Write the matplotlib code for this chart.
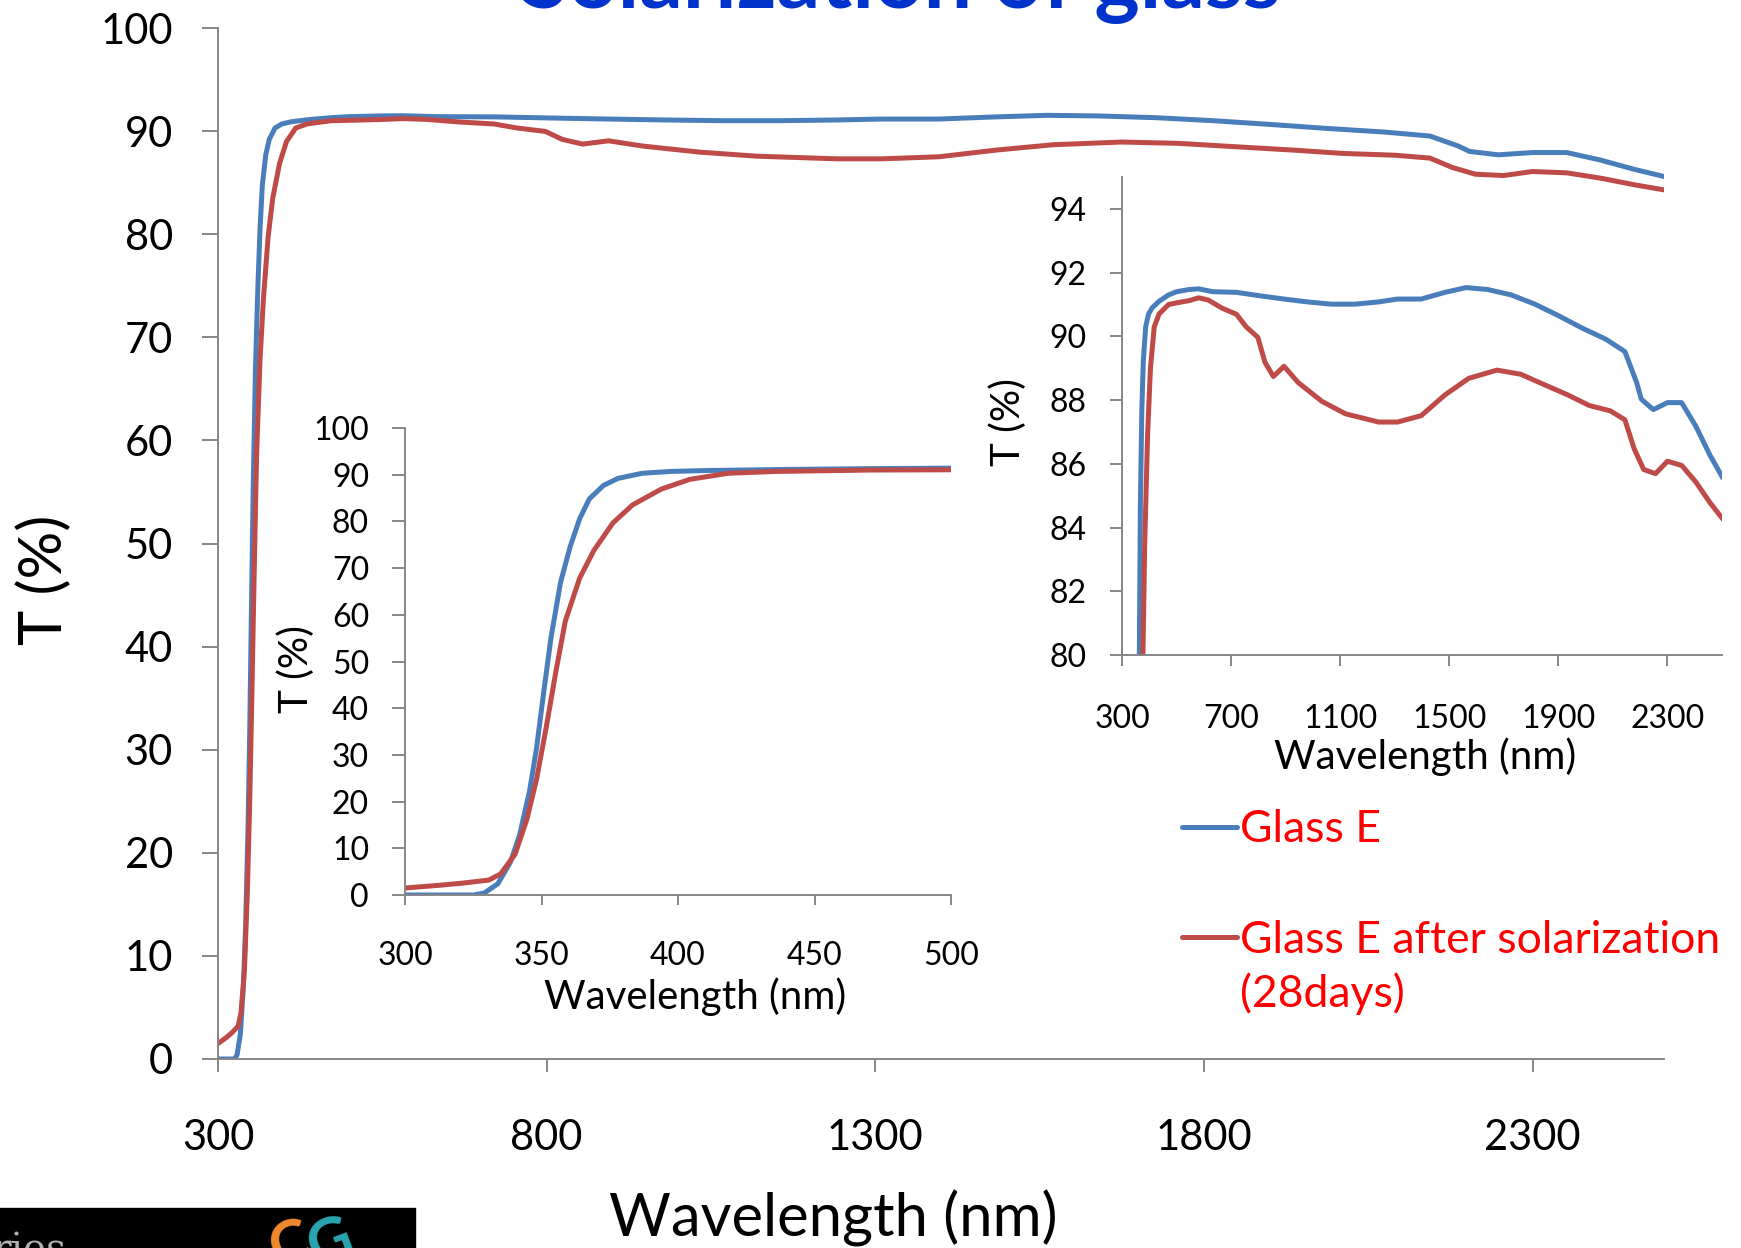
import numpy as np
import matplotlib.pyplot as plt
from matplotlib.lines import Line2D
from matplotlib.patches import Rectangle

# transmission spectra: wavelength (nm), T (%)
wl_glass = [300, 325, 329, 334, 338.6, 342, 345.6, 348.2, 350.8, 353.5, 357, 360.5,
            364, 367.5, 372.7, 378, 386.8, 397.3, 411, 436, 471, 500, 546, 581,
            633, 720, 807, 894, 980, 1067, 1154, 1241, 1310, 1397, 1484, 1562,
            1640, 1727, 1814, 1900, 1987, 2074, 2144, 2187, 2204, 2248, 2300,
            2352, 2404, 2456, 2500]
t_glass = [0, 0, 0.4, 2.4, 7.0, 12.9, 22.2, 31.5, 43.4, 55.2, 67.0, 74.6,
           80.6, 84.8, 87.7, 89.2, 90.3, 90.7, 90.9, 91.1, 91.3, 91.4, 91.47, 91.49,
           91.4, 91.38, 91.27, 91.17, 91.08, 91.01, 91.01, 91.08, 91.17, 91.17, 91.38, 91.53,
           91.47, 91.3, 91.01, 90.65, 90.26, 89.91, 89.52, 88.55, 88.03, 87.70, 87.92,
           87.92, 87.18, 86.27, 85.6]

wl_solar = [300, 313, 322, 330.7, 335, 340.3, 344.7, 348.2, 351.7, 355.2, 358.7, 364,
            369.2, 376.2, 383.3, 393.8, 404.3, 418.3, 435.8, 471, 500, 546, 581, 616,
            668, 720, 755, 798, 824, 855, 894, 946, 1033, 1119, 1241, 1310, 1397,
            1484, 1571, 1675, 1762, 1849, 1935, 2013, 2091, 2144, 2178, 2213, 2256,
            2300, 2352, 2404, 2456, 2500]
t_solar = [1.5, 2.1, 2.6, 3.2, 4.5, 8.7, 16.3, 24.8, 35.8, 47.6, 58.6, 67.9,
           73.8, 79.7, 83.5, 86.9, 89.0, 90.3, 90.7, 91.0, 91.05, 91.12, 91.21, 91.14,
           90.88, 90.69, 90.30, 89.97, 89.19, 88.74, 89.06, 88.55, 87.96, 87.57, 87.31, 87.31, 87.51,
           88.16, 88.68, 88.94, 88.81, 88.48, 88.16, 87.83, 87.66, 87.38, 86.47, 85.82, 85.69,
           86.08, 85.95, 85.43, 84.78, 84.3]

main_xticks = [300, 800, 1300, 1800, 2300]
main_yticks = list(range(0, 101, 10))
uv_xticks = [300, 350, 400, 450, 500]
uv_yticks = list(range(0, 101, 10))
ir_xticks = [300, 700, 1100, 1500, 1900, 2300]
ir_yticks = [80, 82, 84, 86, 88, 90, 92, 94]

series_names = ["Glass E", "Glass E after solarization"]
note = "(28days)"
title = "Solarization of glass"
xlab = "Wavelength (nm)"
ylab = "T (%)"

blue = "#4a7ebb"
red = "#be4b48"
grey = "#868686"

plt.rcParams['font.family'] = ['Lato', 'DejaVu Sans']

W, H = 1741, 1248
fig = plt.figure(figsize=(W / 100, H / 100), dpi=100)


def box(x0, y0, x1, y1):
    # pixel box, top-left origin -> figure fraction rect
    return [x0 / W, 1 - y1 / H, (x1 - x0) / W, (y1 - y0) / H]


def style(ax, xt, yt, fs, xpad, ypad, xlen, ylen):
    for s in ['top', 'right']:
        ax.spines[s].set_visible(False)
    for s in ['left', 'bottom']:
        ax.spines[s].set_color(grey)
        ax.spines[s].set_linewidth(1.4)
    ax.set_xticks(xt)
    ax.set_yticks(yt)
    ax.tick_params(axis='x', length=xlen, width=1.4, color=grey, pad=xpad, labelsize=fs)
    ax.tick_params(axis='y', length=ylen, width=1.4, color=grey, pad=ypad, labelsize=fs)
    ax.patch.set_alpha(0)


def draw(ax):
    a, = ax.plot(wl_glass, t_glass, color=blue, lw=3.6, solid_joinstyle='round')
    b, = ax.plot(wl_solar, t_solar, color=red, lw=3.6, solid_joinstyle='round')
    return a, b


ax = fig.add_axes(box(218, 28, 1664, 1059))
l1, l2 = draw(ax)
ax.set_xlim(300, 2500)
ax.set_ylim(0, 100)
style(ax, main_xticks, main_yticks, 30, 34, 21, 9.4, 11.5)

ax_uv = fig.add_axes(box(405, 428, 951, 895))
draw(ax_uv)
ax_uv.set_xlim(300, 500)
ax_uv.set_ylim(0, 100)
style(ax_uv, uv_xticks, uv_yticks, 23, 26, 16.5, 7.2, 9.4)

ax_ir = fig.add_axes(box(1122, 177, 1722, 655))
draw(ax_ir)
ax_ir.set_xlim(300, 2500)
ax_ir.set_ylim(80, 95)
style(ax_ir, ir_xticks, ir_yticks, 23, 27, 17, 8, 8.6)

# axis titles
fig.text(833 / W, 1 - 1218 / H, xlab, ha='center', va='center', fontsize=43)
fig.text(44 / W, 1 - 580 / H, ylab, ha='center', va='center', rotation=90, fontsize=43)
fig.text(695 / W, 1 - 997 / H, xlab, ha='center', va='center', fontsize=29)
fig.text(296 / W, 1 - 669 / H, ylab, ha='center', va='center', rotation=90, fontsize=29)
fig.text(1425 / W, 1 - 757 / H, xlab, ha='center', va='center', fontsize=29)
fig.text(1008 / W, 1 - 422 / H, ylab, ha='center', va='center', rotation=90, fontsize=29)

# title (clipped at top of slide)
fig.text(901 / W, 1 - 8 / H, title, ha='center', va='baseline', fontsize=62,
         fontweight='bold', color='#0033cc')

# legend, drawn by hand so the handle sits on the first text line
for line, ypx in [(l1, 827), (l2, 937)]:
    fig.add_artist(Line2D([1182 / W, 1237 / W], [1 - ypx / H, 1 - ypx / H],
                          color=line.get_color(), lw=3.6, solid_capstyle='round'))
fig.text(1240 / W, 1 - 842 / H, series_names[0], color='red', fontsize=32, va='baseline')
fig.text(1240 / W, 1 - 953 / H, series_names[1], color='red', fontsize=32, va='baseline')
fig.text(1240 / W, 1 - 1007 / H, note, color='red', fontsize=32, va='baseline')

# logo strip bottom left
fig.add_artist(Rectangle((0, 0), 415 / W, 40 / H, transform=fig.transFigure,
                         color='black', zorder=0))
fig.text(-0.004, -14 / H, "ries", color='#b0b0b0', fontsize=28, family='DejaVu Serif')
fig.text(262 / W, -20 / H, "C", color='#f08a30', fontsize=44, fontweight='bold', rotation=20)
fig.text(300 / W, -18 / H, "G", color='#2aa6b0', fontsize=44, fontweight='bold', rotation=20)

fig.savefig("out.png", dpi=100)
